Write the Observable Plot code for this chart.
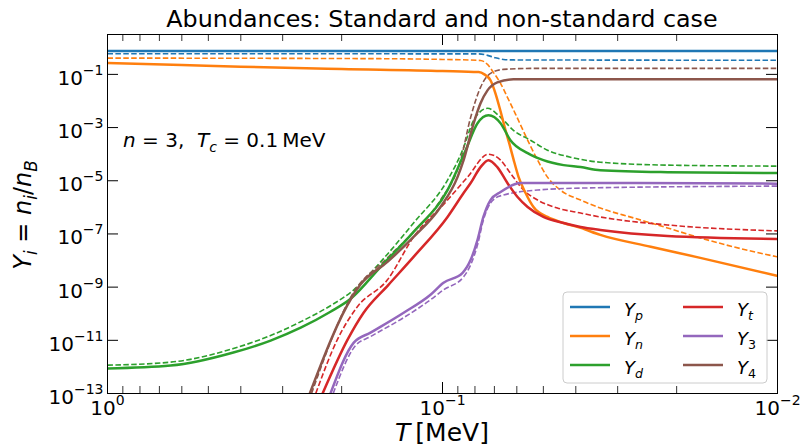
<!DOCTYPE html>
<html><head><meta charset="utf-8">
<script src="https://cdn.jsdelivr.net/npm/d3@7"></script>
<script src="https://cdn.jsdelivr.net/npm/@observablehq/plot@0.6"></script>
<style>body{margin:0;background:#fff}svg{font-family:"DejaVu Sans",sans-serif}</style>
</head><body><div id="chart"></div>
<script>
// ---- Data (T in MeV, Y = n_i/n_B). "std" = solid lines, "nst" = dashed lines ----
const species = ["Yp","Yn","Yd","Yt","Y3","Y4"];
const colors  = ["#1f77b4","#ff7f0e","#2ca02c","#d62728","#9467bd","#8c564b"];

const Yp_std_T = [1, 0.08, 0.07, 0.01];
const Yp_std_Y = [0.76, 0.76, 0.75, 0.75];
const Yp_nst_T = [1, 0.078, 0.0734, 0.0695, 0.0658, 0.0614, 0.01];
const Yp_nst_Y = [0.60, 0.59, 0.52, 0.42, 0.365, 0.35, 0.34];

const Yn_std_T = [1, 0.6, 0.4, 0.2, 0.1, 0.078, 0.075, 0.0719, 0.0695, 0.0671, 0.0649, 0.0631, 0.0614, 0.0593, 0.0565, 0.0535, 0.0486, 0.0435, 0.0387, 0.0338, 0.0239, 0.017, 0.01];
const Yn_std_Y = [0.27, 0.227, 0.195, 0.16, 0.135, 0.122, 0.10, 0.06, 0.0194, 4.1e-3, 8.3e-4, 2.37e-4, 6.5e-5, 1.41e-5, 3.47e-6, 1.03e-6, 4.35e-7, 2.57e-7, 1.69e-7, 9.2e-8, 3.3e-8, 1.26e-8, 2.66e-9];
const Yn_nst_T = [1, 0.153, 0.1, 0.077, 0.0734, 0.0705, 0.0671, 0.064, 0.0605, 0.0577, 0.0546, 0.052, 0.0486, 0.0445, 0.0387, 0.0338, 0.0269, 0.0213, 0.017, 0.0135, 0.01];
const Yn_nst_Y = [0.41, 0.39, 0.365, 0.335, 0.237, 0.119, 0.046, 0.0137, 3.16e-3, 8.7e-4, 2.0e-4, 5.96e-5, 1.37e-5, 4.47e-6, 1.88e-6, 9.4e-7, 4.0e-7, 1.68e-7, 7.1e-8, 3.25e-8, 1.37e-8];

const Yd_std_T = [1, 0.648, 0.421, 0.326, 0.265, 0.216, 0.188, 0.153, 0.122, 0.0966, 0.0853, 0.0786, 0.0729, 0.0671, 0.0627, 0.0557, 0.05, 0.0435, 0.0387, 0.0338, 0.0213, 0.01];
const Yd_std_Y = [8.7e-13, 1.12e-12, 3.47e-12, 9.8e-12, 3.0e-11, 1.19e-10, 3.65e-10, 5.8e-9, 1.19e-7, 4.47e-6, 1.41e-4, 1.46e-3, 2.9e-3, 1.46e-3, 3.35e-4, 1.09e-4, 5.96e-5, 3.87e-5, 3.26e-5, 2.51e-5, 2.11e-5, 1.94e-5];
const Yd_nst_T = [1, 0.648, 0.421, 0.326, 0.265, 0.216, 0.184, 0.153, 0.122, 0.0966, 0.0871, 0.0807, 0.0734, 0.0671, 0.0614, 0.0546, 0.0486, 0.0415, 0.0338, 0.0213, 0.01];
const Yd_nst_Y = [1.16e-12, 1.51e-12, 4.9e-12, 1.51e-11, 5.0e-11, 2.0e-10, 7.9e-10, 8.9e-9, 2.59e-7, 1.06e-5, 1.41e-4, 1.88e-3, 5.3e-3, 2.44e-3, 7.9e-4, 3.35e-4, 1.41e-4, 7.7e-5, 5.0e-5, 3.87e-5, 3.55e-5];

const Yt_std_T = [0.228, 0.192, 0.172, 0.145, 0.122, 0.0966, 0.0865, 0.0824, 0.077, 0.0729, 0.0686, 0.064, 0.0597, 0.0557, 0.05, 0.0435, 0.0387, 0.0338, 0.0213, 0.01];
const Yt_std_Y = [1e-13, 1.06e-11, 1.09e-10, 1.22e-9, 1.37e-8, 4.35e-7, 3.45e-6, 8.2e-6, 3.26e-5, 5.96e-5, 3.26e-5, 8.2e-6, 2.44e-6, 1.03e-6, 4.35e-7, 2.57e-7, 1.83e-7, 1.41e-7, 8.4e-8, 6.5e-8];
const Yt_nst_T = [0.239, 0.206, 0.1795, 0.146, 0.122, 0.0966, 0.0842, 0.0729, 0.0671, 0.0627, 0.0573, 0.052, 0.0454, 0.0387, 0.0338, 0.0213, 0.01];
const Yt_nst_Y = [1e-13, 1.06e-11, 1.83e-10, 1.88e-9, 7.7e-8, 1.88e-6, 1.37e-5, 1.0e-4, 5.96e-5, 1.94e-5, 4.47e-6, 1.88e-6, 9.4e-7, 6.1e-7, 4.35e-7, 2.18e-7, 1.3e-7];

const Y3_std_T = [0.216, 0.184, 0.164, 0.1306, 0.1086, 0.0993, 0.0871, 0.0824, 0.0786, 0.0755, 0.0719, 0.0671, 0.0585, 0.0387, 0.01];
const Y3_std_Y = [1e-13, 8.2e-12, 1.94e-11, 1.09e-10, 5.2e-10, 1.46e-9, 3.45e-9, 1.06e-8, 6.0e-8, 4.35e-7, 1.88e-6, 3.76e-6, 8.2e-6, 8.2e-6, 7.8e-6];
const Y3_nst_T = [0.212, 0.182, 0.164, 0.1306, 0.1086, 0.0993, 0.0865, 0.0824, 0.0786, 0.0755, 0.0719, 0.0695, 0.0658, 0.052, 0.0387, 0.01];
const Y3_nst_Y = [1e-13, 6.3e-12, 1.38e-11, 7.1e-11, 3.35e-10, 7.9e-10, 2.44e-9, 6.9e-9, 3.9e-8, 3.35e-7, 1.45e-6, 2.24e-6, 2.9e-6, 4.47e-6, 5.3e-6, 6.3e-6];

const Y4_std_T = [0.249, 0.186, 0.176, 0.146, 0.122, 0.1014, 0.0902, 0.0865, 0.0807, 0.077, 0.0734, 0.0686, 0.0614, 0.01];
const Y4_std_Y = [1e-13, 4.35e-10, 1.22e-9, 8.9e-9, 7.7e-8, 1.03e-6, 1.37e-5, 5.96e-5, 1.46e-3, 8.2e-3, 0.025, 0.05, 0.065, 0.065];
const Y4_nst_T = [0.246, 0.186, 0.146, 0.122, 0.1014, 0.0883, 0.0824, 0.077, 0.0719, 0.0658, 0.0546, 0.01];
const Y4_nst_Y = [1e-13, 5.2e-10, 1.26e-8, 1.19e-7, 1.88e-6, 5.96e-5, 2.44e-3, 0.0326, 0.109, 0.154, 0.168, 0.168];

// axis ticks
const xMajor = [1, 0.1, 0.01];
const xMinor = [0.9,0.8,0.7,0.6,0.5,0.4,0.3,0.2,0.09,0.08,0.07,0.06,0.05,0.04,0.03,0.02];
const yTicks = [1e-1, 1e-3, 1e-5, 1e-7, 1e-9, 1e-11, 1e-13];

// ---- build tables ----
const rows = (sp, T, Y) => T.map((t, i) => ({species: sp, T: t, Y: Y[i]}));
const std = [
  ...rows("Yp", Yp_std_T, Yp_std_Y), ...rows("Yn", Yn_std_T, Yn_std_Y), ...rows("Yd", Yd_std_T, Yd_std_Y),
  ...rows("Yt", Yt_std_T, Yt_std_Y), ...rows("Y3", Y3_std_T, Y3_std_Y), ...rows("Y4", Y4_std_T, Y4_std_Y)];
const nst = [
  ...rows("Yp", Yp_nst_T, Yp_nst_Y), ...rows("Yn", Yn_nst_T, Yn_nst_Y), ...rows("Yd", Yd_nst_T, Yd_nst_Y),
  ...rows("Yt", Yt_nst_T, Yt_nst_Y), ...rows("Y3", Y3_nst_T, Y3_nst_Y), ...rows("Y4", Y4_nst_T, Y4_nst_Y)];

const W = 800, H = 447, mL = 107, mR = 23, mT = 34, mB = 54;
const pW = W - mL - mR, pH = H - mT - mB;
const supFmt = d => "10^" + String(Math.round(Math.log10(d))).replace("-", "\u2212");

const chart = Plot.plot({
  width: W, height: H, marginLeft: mL, marginRight: mR, marginTop: mT, marginBottom: mB,
  style: {fontFamily: "DejaVu Sans, sans-serif", fontSize: "20px", color: "#000", background: "#fff"},
  x: {type: "log", domain: [1, 0.01]},
  y: {type: "log", domain: [1e-13, Math.sqrt(10)]},
  color: {domain: species, range: colors},
  marks: [
    Plot.line(nst, {x: "T", y: "Y", z: "species", stroke: "species", strokeWidth: 1.6,
      strokeDasharray: "5.5,2.4", strokeLinecap: "butt", curve: "monotone-x", clip: true}),
    Plot.line(std, {x: "T", y: "Y", z: "species", stroke: "species", strokeWidth: 2.5,
      curve: "monotone-x", clip: true}),
    Plot.frame({stroke: "#000", strokeWidth: 1}),
    Plot.tickX(xMajor, {insetTop: pH - 11, stroke: "#000"}),
    Plot.tickX(xMajor, {insetBottom: pH - 11, stroke: "#000"}),
    Plot.tickX(xMinor, {insetTop: pH - 7, stroke: "#000", strokeWidth: 0.8}),
    Plot.tickX(xMinor, {insetBottom: pH - 7, stroke: "#000", strokeWidth: 0.8}),
    Plot.tickY(yTicks, {insetRight: pW - 11, stroke: "#000"}),
    Plot.tickY(yTicks, {insetLeft: pW - 11, stroke: "#000"}),
    Plot.axisX(xMajor, {tickSize: 0, tickPadding: 7, tickFormat: supFmt, fontSize: 20, label: null}),
    Plot.axisY(yTicks, {tickSize: 0, tickPadding: 4, dy: 4, tickFormat: supFmt, fontSize: 20, label: null})
  ]
});
document.getElementById("chart").appendChild(chart);

const svg = d3.select(chart);
// superscripts for tick labels
svg.selectAll("text").each(function () {
  const s = this.textContent;
  if (s.includes("^")) {
    const [b, e] = s.split("^");
    this.textContent = b;
    d3.select(this).append("tspan").attr("font-size", 14).attr("dy", -10).text(e);
  }
});

function mathText(g, parts, size, anchor) {
  const text = g.append("text").attr("font-size", size).attr("fill", "#000")
    .attr("text-anchor", anchor || "start");
  let shift = 0;
  for (const p of parts) {
    const ts = text.append("tspan").text(p.t);
    if (p.it) ts.attr("font-style", "italic");
    const target = p.sub ? size * 0.24 : 0;
    ts.attr("font-size", p.sub ? size * 0.7 : size);
    if (target !== shift) { ts.attr("dy", target - shift); shift = target; }
  }
  return text;
}

// title
svg.append("text").attr("x", mL + pW / 2).attr("y", 27).attr("text-anchor", "middle")
  .attr("font-size", 23.8).attr("fill", "#000").text("Abundances: Standard and non-standard case");

// x label
mathText(svg, [{t: "T", it: true}, {t: "\u2009[MeV]"}], 25, "middle")
  .attr("x", mL + pW / 2).attr("y", 441);

// y label
mathText(svg, [{t: "Y", it: true}, {t: "i", it: true, sub: true}, {t: " = "}, {t: "n", it: true},
  {t: "i", it: true, sub: true}, {t: "/"}, {t: "n", it: true}, {t: "B", it: true, sub: true}], 24, "middle")
  .attr("transform", "translate(31,215) rotate(-90)");

// annotation
mathText(svg, [{t: "n", it: true}, {t: " = 3,  "}, {t: "T", it: true}, {t: "c", it: true, sub: true},
  {t: " = 0.1\u2009MeV"}], 20).attr("x", 123).attr("y", 147);

// legend
const lg = svg.append("g");
lg.append("rect").attr("x", 563).attr("y", 292).attr("width", 204).attr("height", 91).attr("rx", 4)
  .attr("fill", "#fff").attr("fill-opacity", 0.8).attr("stroke", "#ccc");
const subs = [["p", true], ["n", true], ["d", true], ["t", true], ["3", false], ["4", false]];
species.forEach((sp, i) => {
  const col = i < 3 ? 0 : 1, row = i % 3;
  const x0 = col ? 683 : 570, y = 307 + row * 29;
  lg.append("line").attr("x1", x0).attr("x2", x0 + 40).attr("y1", y).attr("y2", y)
    .attr("stroke", colors[i]).attr("stroke-width", 2.5);
  mathText(lg, [{t: "Y", it: true}, {t: subs[i][0], it: subs[i][1], sub: true}], 18)
    .attr("x", x0 + 54).attr("y", y + 9);
});
</script>
</body></html>
